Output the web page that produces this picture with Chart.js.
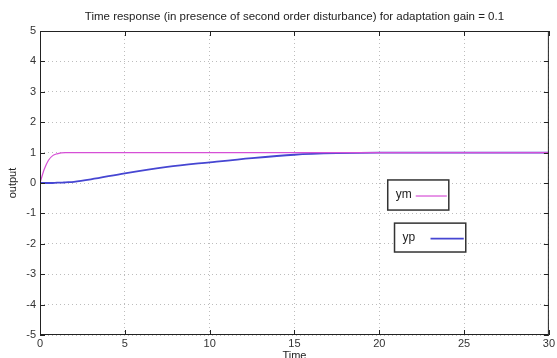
<!DOCTYPE html>
<html>
<head>
<meta charset="utf-8">
<script src="https://cdn.jsdelivr.net/npm/chart.js@4.4.0/dist/chart.umd.min.js"></script>
<style>
  html, body { margin: 0; padding: 0; background: #fff; }
  #wrap { width: 557px; height: 358px; overflow: hidden; }
</style>
</head>
<body>
<div id="wrap"><canvas id="chart" width="557" height="358"></canvas></div>
<script>
// sample times (s)
const times = [0, 0.25, 0.5, 0.75, 1, 1.25, 1.5, 2, 3, 5, 7.5, 10, 12.5, 15, 17.5, 20, 25, 30];
// reference model output
const ymValues = [0, 0.45, 0.75, 0.9, 0.96, 0.99, 1, 1, 1, 1, 1, 1, 1, 1, 1, 1, 1, 1];
// plant output
const ypValues = [0, 0, 0, 0, 0.01, 0.01, 0.02, 0.04, 0.12, 0.32, 0.53, 0.68, 0.82, 0.93, 0.98, 1, 1, 1];
const xTicks = [0, 5, 10, 15, 20, 25, 30];
const yTicks = [-5, -4, -3, -2, -1, 0, 1, 2, 3, 4, 5];
const chartTitle = 'Time response (in presence of second order disturbance) for adaptation gain = 0.1';

const FONT = "'Liberation Sans Narrow', 'Liberation Sans', Arial, sans-serif";

// MATLAB-style frame, inward ticks, title over the axes and floating legend boxes
const matlabFrame = {
  id: 'matlabFrame',
  afterDraw(chart, args, opts) {
    const { ctx, chartArea: a, scales } = chart;
    ctx.save();

    ctx.fillStyle = '#222';
    ctx.font = '11.5px ' + FONT;
    ctx.textAlign = 'center';
    ctx.textBaseline = 'middle';
    ctx.fillText(chartTitle, (a.left + a.right) / 2, a.top - 14);
    ctx.textAlign = 'left';

    ctx.strokeStyle = '#222';
    ctx.lineWidth = 1;
    ctx.strokeRect(a.left + 0.5, a.top + 0.5, a.right - a.left - 1, a.bottom - a.top - 1);
    ctx.beginPath();
    xTicks.forEach(v => {
      const x = Math.round(scales.x.getPixelForValue(v)) + 0.5;
      ctx.moveTo(x, a.bottom); ctx.lineTo(x, a.bottom - 5);
      ctx.moveTo(x, a.top); ctx.lineTo(x, a.top + 5);
    });
    yTicks.forEach(v => {
      const y = Math.round(scales.y.getPixelForValue(v)) + 0.5;
      ctx.moveTo(a.left, y); ctx.lineTo(a.left + 5, y);
      ctx.moveTo(a.right, y); ctx.lineTo(a.right - 5, y);
    });
    ctx.stroke();

    // legend boxes
    opts.boxes.forEach(b => {
      const ds = chart.data.datasets[b.dataset];
      const x0 = scales.x.getPixelForValue(b.x0), x1 = scales.x.getPixelForValue(b.x1);
      const y0 = scales.y.getPixelForValue(b.y0), y1 = scales.y.getPixelForValue(b.y1);
      ctx.fillStyle = '#fff';
      ctx.fillRect(x0, y0, x1 - x0, y1 - y0);
      ctx.strokeStyle = '#333';
      ctx.lineWidth = 1.5;
      ctx.strokeRect(x0, y0, x1 - x0, y1 - y0);
      ctx.fillStyle = '#222';
      ctx.font = '12px ' + FONT;
      ctx.textBaseline = 'middle';
      const ym = (y0 + y1) / 2;
      ctx.fillText(ds.label, x0 + 8, ym);
      ctx.strokeStyle = ds.borderColor;
      ctx.lineWidth = ds.borderWidth;
      ctx.beginPath();
      ctx.moveTo(x0 + b.lineStart, ym + 1);
      ctx.lineTo(x1 - 2, ym + 1);
      ctx.stroke();
    });
    ctx.restore();
  }
};

new Chart(document.getElementById('chart'), {
  type: 'line',
  data: {
    datasets: [
      {
        label: 'ym',
        data: times.map((t, i) => ({ x: t, y: ymValues[i] })),
        borderColor: '#d64fd6',
        borderWidth: 1.2,
        pointRadius: 0,
        cubicInterpolationMode: 'monotone'
      },
      {
        label: 'yp',
        data: times.map((t, i) => ({ x: t, y: ypValues[i] })),
        borderColor: '#4646d2',
        borderWidth: 1.8,
        pointRadius: 0,
        cubicInterpolationMode: 'monotone'
      }
    ]
  },
  options: {
    responsive: false,
    animation: false,
    layout: { padding: { left: 6, right: 4, top: 31, bottom: -5 } },
    plugins: {
      legend: { display: false },
      tooltip: { enabled: false },
      title: { display: false },
      matlabFrame: {
        boxes: [
          { dataset: 0, x0: 20.5, x1: 24.1, y0: 0.1, y1: -0.89, lineStart: 28 },
          { dataset: 1, x0: 20.9, x1: 25.1, y0: -1.32, y1: -2.27, lineStart: 36 }
        ]
      }
    },
    scales: {
      x: {
        type: 'linear',
        min: 0,
        max: 30,
        afterBuildTicks: s => { s.ticks = xTicks.map(v => ({ value: v })); },
        afterFit: s => { s.height = 28; },
        ticks: { color: '#333', font: { family: FONT, size: 11 }, padding: 2, maxRotation: 0 },
        grid: { color: '#bdbdbd', drawTicks: false },
        border: { display: false, dash: [1, 3] },
        title: { display: true, text: 'Time', color: '#222', font: { family: FONT, size: 11 }, padding: 0 }
      },
      y: {
        type: 'linear',
        min: -5,
        max: 5,
        afterBuildTicks: s => { s.ticks = yTicks.map(v => ({ value: v })); },
        afterFit: s => { s.width = 34; },
        ticks: { color: '#333', font: { family: FONT, size: 11 }, padding: 4 },
        grid: { color: '#bdbdbd', drawTicks: false },
        border: { display: false, dash: [1, 3] },
        title: { display: true, text: 'output', color: '#222', font: { family: FONT, size: 11 }, padding: { top: 0, bottom: 4 } }
      }
    }
  },
  plugins: [matlabFrame]
});
</script>
</body>
</html>
